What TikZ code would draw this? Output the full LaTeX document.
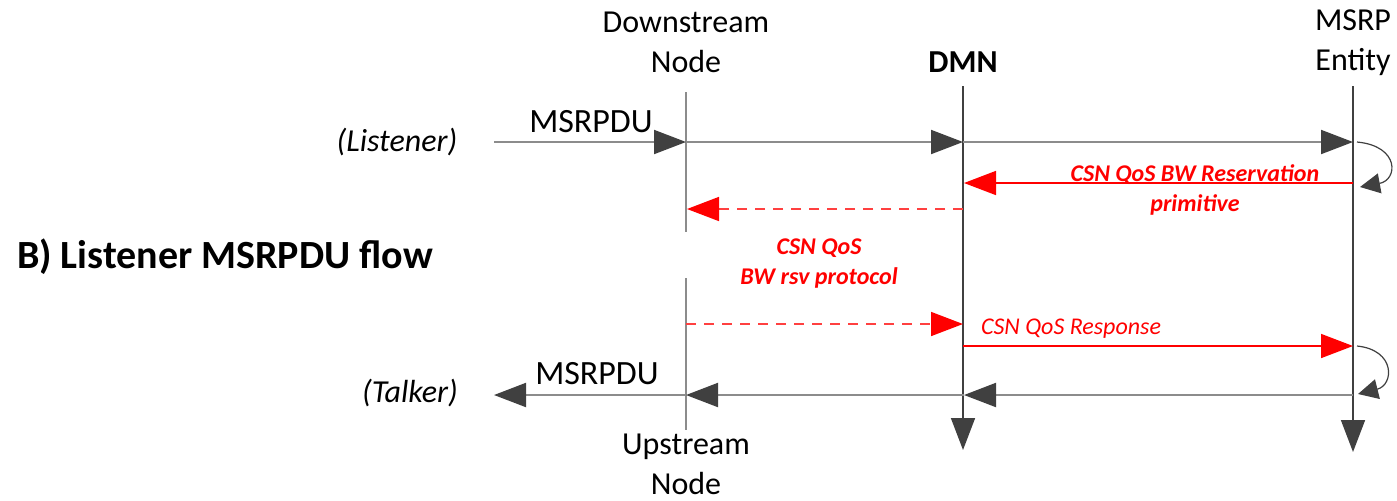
\documentclass[tikz,border=0pt]{standalone}
\usepackage{fontspec}
\setmainfont{Carlito}
\usetikzlibrary{arrows.meta}
\definecolor{lgray}{HTML}{8C8C8C}
\definecolor{dgray}{HTML}{404040}
\definecolor{myred}{HTML}{FF0000}
\begin{document}
\begin{tikzpicture}[x=0.5pt,y=-0.5pt,
  big/.style={font=\fontsize{16}{20}\selectfont, align=center, inner sep=0pt},
  redlbl/.style={font=\fontsize{12}{15}\selectfont\bfseries\itshape, text=myred, align=center, inner sep=0pt},
  gtip/.style={-{Triangle[length=16pt,width=12pt,color=dgray,fill=dgray]}},
  rtip/.style={-{Triangle[length=16pt,width=12pt,color=myred,fill=myred]}},
  lifeline/.style={draw=lgray, line width=1pt},
  lifearrow/.style={draw=dgray, line width=0.8pt, gtip},
  msg/.style={draw=lgray, line width=1pt, gtip},
  redmsg/.style={draw=myred, line width=0.8pt, rtip},
  reddash/.style={draw=myred!75, line width=0.8pt, dash pattern=on 5pt off 4pt, rtip},
  selfmsg/.style={draw=dgray, line width=0.6pt, -{Triangle[length=10pt,width=10pt,color=dgray,fill=dgray]}}
]
\useasboundingbox (0,0) rectangle (1397,500);

% headers
\node[big] (hds) at (686,42) {Downstream\\Node};
\node[big,font=\fontsize{16}{20}\selectfont\bfseries] (hdmn) at (963,62) {DMN};
\node[big] (hmsrp) at (1353,43) {MSRP\\Entity};
\node[big] (hus) at (686,464) {Upstream\\Node};
\node[big,font=\fontsize{16}{20}\selectfont\itshape] (lis) at (397,142) {(Listener)};
\node[big,font=\fontsize{16}{20}\selectfont\itshape] (tal) at (410,393) {(Talker)};
\node[font=\fontsize{20}{24}\selectfont\bfseries, inner sep=0pt] (title) at (225,257) {B) Listener MSRPDU flow};

% coordinates
\coordinate (dsTop) at (686,92);
\coordinate (dsGap1) at (686,232);
\coordinate (dsGap2) at (686,278);
\coordinate (dsBot) at (686,430);
\coordinate (dmnTop) at (963,86);
\coordinate (dmnBot) at (963,450);
\coordinate (meTop) at (1353,86);
\coordinate (meBot) at (1353,452);

\coordinate (inL) at (494,142);
\coordinate (ds1) at (686,142);
\coordinate (dmn1) at (963,142);
\coordinate (me1) at (1353,142);
\coordinate (me1s) at (1357,142);
\coordinate (me2e) at (1360,187);
\coordinate (me2) at (1353,183);
\coordinate (dmn2) at (964,183);
\coordinate (dmn3) at (963,209);
\coordinate (ds3) at (687,209);
\coordinate (ds4) at (686,324);
\coordinate (dmn4) at (963,324);
\coordinate (dmn5) at (963,346);
\coordinate (me5) at (1353,346);
\coordinate (me5s) at (1357,346);
\coordinate (me6e) at (1358,394);
\coordinate (me6) at (1353,395);
\coordinate (dmn6) at (964,395);
\coordinate (ds6) at (686,395);
\coordinate (outL) at (494,395);

% lifelines
\draw[lifeline] (dsTop) -- (dsGap1);
\draw[lifeline] (dsGap2) -- (dsBot);
\draw[lifearrow] (dmnTop) -- (dmnBot);
\draw[lifearrow] (meTop) -- (meBot);

% messages
\draw[msg] (inL) -- (ds1);
\draw[msg] (ds1) -- (dmn1);
\draw[msg] (dmn1) -- (me1);
\draw[selfmsg] (me1s) .. controls (1400,146) and (1398,180) .. (me2e);
\draw[redmsg] (me2) -- (dmn2);
\draw[reddash] (dmn3) -- (ds3);
\draw[reddash] (ds4) -- (dmn4);
\draw[redmsg] (dmn5) -- (me5);
\draw[selfmsg] (me5s) .. controls (1396,350) and (1394,385) .. (me6e);
\draw[msg] (me6) -- (dmn6);
\draw[msg] (dmn6) -- (ds6);
\draw[msg] (ds6) -- (outL);

% labels
\node[big,font=\fontsize{17}{20}\selectfont] (m1) at (591,122) {MSRPDU};
\node[big,font=\fontsize{17}{20}\selectfont] (m2) at (597,374) {MSRPDU};
\node[redlbl] (r1) at (1195,190) {CSN QoS BW Reservation\\primitive};
\node[redlbl] (r2) at (819,264) {CSN QoS\\BW rsv protocol};
\node[redlbl,font=\fontsize{12}{15}\selectfont\itshape] (r3) at (1071,329) {CSN QoS Response};
\end{tikzpicture}
\end{document}
